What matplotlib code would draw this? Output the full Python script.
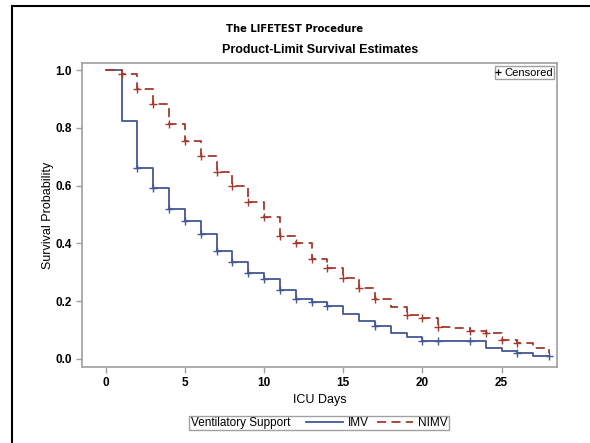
import matplotlib

matplotlib.use("Agg")
import matplotlib.pyplot as plt
import numpy as np
from matplotlib.lines import Line2D
from matplotlib.offsetbox import HPacker

plt.rcParams.update({"font.family": ["Liberation Sans", "DejaVu Sans"], "font.size": 9})

# --- data ---------------------------------------------------------------------------
days = [0, 1, 2, 3, 4, 5, 6, 7, 8, 9, 10, 11, 12, 13, 14, 15, 16, 17, 18, 19, 20,
        21, 22, 23, 24, 25, 26, 27, 28]
imv_surv = [1.0, 0.824, 0.661, 0.592, 0.519, 0.478, 0.433, 0.374, 0.336, 0.298, 0.277,
            0.239, 0.208, 0.198, 0.183, 0.156, 0.131, 0.114, 0.090, 0.076, 0.063,
            0.063, 0.063, 0.063, 0.038, 0.029, 0.021, 0.010, 0.010]
nimv_surv = [1.0, 0.986, 0.934, 0.882, 0.813, 0.754, 0.702, 0.647, 0.599, 0.543, 0.491,
             0.426, 0.400, 0.346, 0.315, 0.280, 0.246, 0.208, 0.180, 0.152, 0.142,
             0.111, 0.106, 0.095, 0.088, 0.067, 0.054, 0.038, 0.020]
imv_cens = [2, 3, 4, 5, 6, 7, 8, 9, 10, 11, 12, 13, 14, 17, 20, 21, 23, 26, 28]
nimv_cens = [1, 2, 3, 4, 5, 6, 7, 8, 9, 10, 11, 12, 13, 14, 15, 16, 17, 19, 20, 21,
             23, 24, 25, 26]
groups = ["IMV", "NIMV"]

BLUE, RED = "#445694", "#A23A2E"
GRAY = "#a0a0a0"

fig = plt.figure(figsize=(5.9, 4.43), dpi=100)
ax = fig.add_axes([0.139, 0.1716, 0.805, 0.686])

t = np.array(days)
for surv, cens, col, ls in [(imv_surv, imv_cens, BLUE, "-"),
                            (nimv_surv, nimv_cens, RED, (0, (5, 3)))]:
    s = np.array(surv)
    ax.step(t, s, where="post", color=col, lw=1.3, ls=ls)
    c = np.array(cens)
    ax.plot(c, s[np.searchsorted(t, c)], ls="none", marker="+", ms=6, mew=1.0, color=col)

ax.set_xlim(-1.5, 28.5)
ax.set_ylim(-0.028, 1.024)
ax.set_xticks(range(0, 26, 5))
ax.set_yticks(np.arange(0, 1.01, 0.2))
ax.yaxis.set_major_formatter(matplotlib.ticker.FormatStrFormatter("%.1f"))
ax.tick_params(colors=GRAY, labelcolor="black", length=4, width=1, labelsize=8.5)
for lab in ax.get_xticklabels() + ax.get_yticklabels():
    lab.set_fontweight("bold")
for sp in ax.spines.values():
    sp.set_color(GRAY); sp.set_linewidth(1.2)
ax.set_xlabel("ICU Days", fontsize=9, labelpad=3)
ax.set_ylabel("Survival Probability", fontsize=9, labelpad=1)

# censored key, top right inside the axes
ax.legend([Line2D([], [], ls="none", marker="+", color="black", ms=5, mew=0.9)],
          ["Censored"], loc="upper right", handlelength=0.4, handletextpad=0.3,
          borderpad=0.1, borderaxespad=0.3, fancybox=False, edgecolor=GRAY,
          framealpha=1, fontsize=8)

fig.text(0.5, 1 - 29 / 443, "The LIFETEST Procedure", ha="center", va="center",
         fontsize=7.2, fontweight="bold", family="DejaVu Sans")
fig.text(0.542, 1 - 50 / 443, "Product-Limit Survival Estimates", ha="center",
         va="center", fontsize=9, fontweight="bold")

# group legend at the bottom: title sits left of the entries, all in one box
handles = [Line2D([], [], color=BLUE, lw=1.3),
           Line2D([], [], color=RED, lw=1.3, ls=(0, (5, 3)))]
leg = fig.legend(handles, groups, ncol=2, title="Ventilatory Support",
                 loc="center", bbox_to_anchor=(0.541, 1 - 423 / 443),
                 fancybox=False, edgecolor=GRAY, framealpha=1, fontsize=8.5,
                 title_fontsize=8.5, handlelength=3.1, handletextpad=0.4,
                 columnspacing=0.7, borderpad=0.1)
fs = leg._fontsize
leg._legend_box = HPacker(pad=0.12 * fs, sep=1.35 * fs, align="center",
                          children=[leg._legend_title_box, leg._legend_handle_box])
leg._legend_box.set_figure(fig)
leg._legend_box.set_offset(leg._findoffset)

# outer frame (left and top edges visible in the source)
fig.add_artist(Line2D([12 / 590, 12 / 590], [0, 1 - 6 / 443], color="black", lw=1.5,
                      transform=fig.transFigure))
fig.add_artist(Line2D([12 / 590, 1], [1 - 6 / 443, 1 - 6 / 443], color="black", lw=1.5,
                      transform=fig.transFigure))

fig.savefig("out.png", dpi=100)
